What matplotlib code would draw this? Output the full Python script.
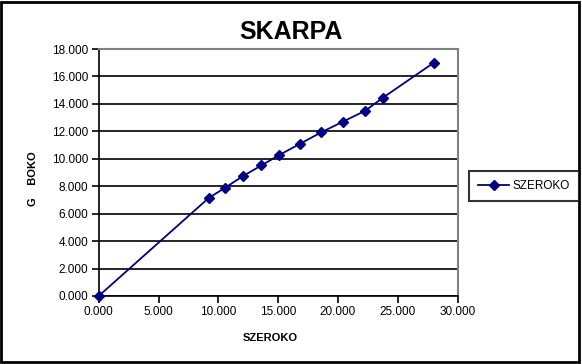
import matplotlib
matplotlib.use("Agg")
import matplotlib.pyplot as plt
from matplotlib.patches import Rectangle
from matplotlib.ticker import FuncFormatter, MultipleLocator

plt.rcParams['font.family'] = ['Liberation Sans', 'DejaVu Sans']

# Data
szeroko = [0.0, 9.19, 10.58, 12.08, 13.6, 15.1, 16.8, 18.6, 20.4, 22.27, 23.75, 28.0]
gleboko = [0.0, 7.14, 7.90, 8.75, 9.52, 10.28, 11.08, 11.93, 12.70, 13.50, 14.45, 17.0]
title = "SKARPA"
xlabel = "SZEROKO"
ylabel = "G    BOKO"
series_name = "SZEROKO"

W, H = 582, 364
fig = plt.figure(figsize=(W / 100, H / 100), dpi=100)

def px(x0, y0, x1, y1):
    return [x0 / W, 1 - y1 / H, (x1 - x0) / W, (y1 - y0) / H]

ax = fig.add_axes(px(98.7, 49, 457.7, 296))
line, = ax.plot(szeroko, gleboko, color='#000080', lw=1.3, marker='D',
                markersize=5, markerfacecolor='#000080', markeredgecolor='#000080',
                label=series_name, clip_on=False, zorder=5)
ax.set_xlim(0, 30)
ax.set_ylim(0, 18)
ax.xaxis.set_major_locator(MultipleLocator(5))
ax.yaxis.set_major_locator(MultipleLocator(2))
fmt = FuncFormatter(lambda v, p: f"{v:.3f}")
ax.xaxis.set_major_formatter(fmt)
ax.yaxis.set_major_formatter(fmt)
ax.grid(axis='y', color='black', lw=1.2)
ax.set_axisbelow(True)
for s in ['left', 'bottom']:
    ax.spines[s].set_color('black')
    ax.spines[s].set_linewidth(1.2)
for s in ['top', 'right']:
    ax.spines[s].set_color('#808080')
    ax.spines[s].set_linewidth(1.5)
ax.tick_params(direction='out', length=5, width=1.2, color='black',
               labelsize=8.5, pad=2.5, labelcolor='black')

fig.text(291 / W, 1 - 32 / H, title, ha='center', va='center',
         fontsize=18, fontweight='bold')
fig.text(270 / W, 1 - 338 / H, xlabel, ha='center', va='center',
         fontsize=8, fontweight='bold')
fig.text(33 / W, 1 - 179 / H, ylabel, ha='center', va='center',
         fontsize=8, fontweight='bold', rotation=90)

leg = fig.legend(handles=[line], loc='center', bbox_to_anchor=(524 / W, 1 - 186 / H),
                 fontsize=8.5, frameon=True, fancybox=False, handlelength=2.6,
                 handletextpad=0.3, borderpad=0.75, borderaxespad=0)
leg.get_frame().set_edgecolor('black')
leg.get_frame().set_linewidth(1.5)

fig.patches.append(Rectangle((1 / W, 2 / H), 577.5 / W, 360 / H, transform=fig.transFigure,
                             fill=False, edgecolor='black', lw=2))

fig.savefig('out.png', dpi=100)
